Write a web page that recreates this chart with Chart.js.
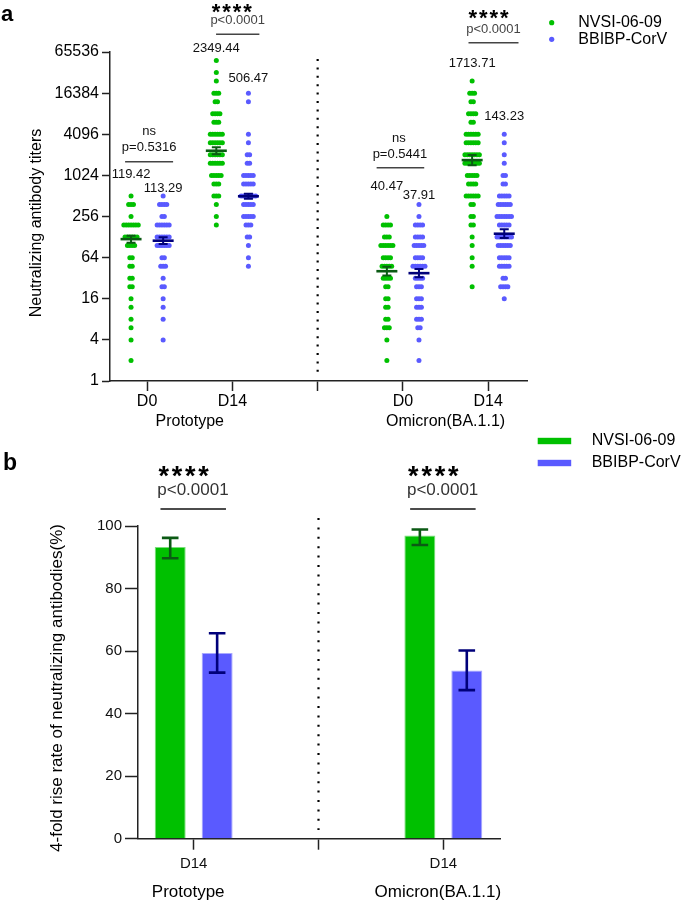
<!DOCTYPE html>
<html><head><meta charset="utf-8">
<script src="https://cdn.jsdelivr.net/npm/chart.js@4.4.1/dist/chart.umd.min.js"></script>
<style>
html,body{margin:0;padding:0;background:#fff;}
body{width:685px;height:902px;position:relative;overflow:hidden;}
canvas{position:absolute;left:0;}
#c1{top:0;} #c2{top:420px;}
</style></head><body>
<canvas id="c1" width="685" height="440"></canvas>
<canvas id="c2" width="685" height="482"></canvas>
<script>
// ---------------- DATA ----------------
const seriesNames = ['NVSI-06-09', 'BBIBP-CorV'];
const variantLabels = ['Prototype', 'Omicron(BA.1.1)'];

// Panel a : neutralizing antibody titers
const titerTicks = [1, 4, 16, 64, 256, 1024, 4096, 16384, 65536];
const dayLabelsA = ['D0', 'D14', '', 'D0', 'D14'];   // tick labels (index 2 = separator)
const groupPos = [0, 1, 3, 4];                       // Prototype D0, Prototype D14, Omicron D0, Omicron D14
// [titer, number of subjects] per group
const nvsiProtoD0 = [[2,1],[4,1],[6,1],[8,1],[12,1],[16,1],[24,2],[32,2],[48,2],[64,2],[96,4],[128,6],[192,7],[256,1],[384,3],[512,1]];
const bbibpProtoD0 = [[4,1],[8,1],[12,1],[16,1],[24,2],[32,1],[48,3],[64,2],[96,6],[128,6],[192,6],[256,2],[384,4],[512,1]];
const nvsiProtoD14 = [[192,1],[256,1],[384,1],[512,3],[768,3],[1024,5],[1536,6],[2048,6],[3072,6],[4096,6],[6144,3],[8192,4],[12288,2],[16384,3],[24576,1],[32768,1],[49152,1]];
const bbibpProtoD14 = [[48,1],[64,1],[96,1],[128,2],[192,3],[256,5],[384,5],[512,7],[768,5],[1024,5],[1536,2],[2048,2],[3072,1],[4096,1],[12288,1],[16384,1]];
const nvsiOmiD0 = [[2,1],[4,1],[6,3],[8,2],[12,2],[16,2],[24,2],[32,4],[48,5],[64,4],[96,6],[128,3],[192,4],[256,1]];
const bbibpOmiD0 = [[2,1],[4,1],[6,2],[8,3],[12,3],[16,3],[24,3],[32,4],[48,6],[64,4],[96,5],[128,4],[192,4],[256,1],[384,1]];
const nvsiOmiD14 = [[24,1],[48,1],[64,1],[96,1],[128,1],[192,2],[256,2],[384,2],[512,6],[768,4],[1024,5],[1536,7],[2048,7],[3072,6],[4096,6],[6144,2],[8192,4],[12288,2],[16384,3],[24576,1]];
const bbibpOmiD14 = [[16,1],[24,4],[32,2],[48,5],[64,5],[96,6],[128,7],[192,5],[256,7],[384,6],[512,5],[768,2],[1024,2],[1536,1],[2048,1],[3072,1],[4096,1]];
const nvsiGroups = [nvsiProtoD0, nvsiProtoD14, nvsiOmiD0, nvsiOmiD14];
const bbibpGroups = [bbibpProtoD0, bbibpProtoD14, bbibpOmiD0, bbibpOmiD14];
// geometric mean titers and their interval
const gmtNVSI = [119.42, 2349.44, 40.47, 1713.71];
const gmtBBIBP = [113.29, 506.47, 37.91, 143.23];
const ciNVSI = [[106, 134], [2080, 2650], [35, 47], [1440, 2040]];
const ciBBIBP = [[101, 127], [465, 552], [33, 43.6], [123.5, 166]];
const pLabelsA = ['p=0.5316', 'p<0.0001', 'p=0.5441', 'p<0.0001'];
const sigLabelsA = ['ns', '****', 'ns', '****'];

// Panel b : 4-fold rise rate (%)
const dayLabelsB = ['D14', '', 'D14'];
const ratePos = [0, 2];
const rateNVSI = [93.3, 97.0];
const rateBBIBP = [59.4, 53.8];
const errNVSI = [[89.7, 96.2], [93.9, 98.9]];
const errBBIBP = [[53.1, 65.7], [47.5, 60.2]];
const pLabelsB = ['p<0.0001', 'p<0.0001'];

// ---------------- STYLE ----------------
const FONT = "'Liberation Sans', Arial, Helvetica, sans-serif";
const GREEN = '#00C000', BLUE = '#5A5AFF';
const DGREEN = '#0B5A14', DBLUE = '#00007A';
const AXIS = '#222';
const DOT_OFF = 16 / 85;     // column offset from the day tick (x units)
const SWARM_STEP = 2.4 / 85; // horizontal step between tied points

function swarm(groups, side) {
  const pts = [];
  groups.forEach((g, gi) => {
    const c = groupPos[gi] + side * DOT_OFF;
    g.forEach(([v, n]) => {
      for (let i = 0; i < n; i++) pts.push({ x: c + (i - (n - 1) / 2) * SWARM_STEP, y: v });
    });
  });
  return pts;
}

function txt(ctx, s, x, y, size, color, align, weight) {
  ctx.save();
  ctx.font = (weight || 'normal') + ' ' + size + 'px ' + FONT;
  ctx.fillStyle = color || '#000';
  ctx.textAlign = align || 'center';
  ctx.textBaseline = 'middle';
  ctx.fillText(s, x, y);
  ctx.restore();
}
function stars(ctx, cx, cy, size, spacing) {
  ctx.save();
  ctx.font = 'bold ' + size + 'px ' + FONT;
  ctx.fillStyle = '#000';
  ctx.textAlign = 'center';
  ctx.textBaseline = 'alphabetic';
  for (let i = 0; i < 4; i++) ctx.fillText('*', cx + (i - 1.5) * spacing, cy + 0.58 * size);
  ctx.restore();
}
function hline(ctx, x1, x2, y, color, w) {
  ctx.save(); ctx.strokeStyle = color; ctx.lineWidth = w;
  ctx.beginPath(); ctx.moveTo(x1, y); ctx.lineTo(x2, y); ctx.stroke(); ctx.restore();
}
function dotted(ctx, x, y1, y2, gap) {
  ctx.save(); ctx.strokeStyle = '#000'; ctx.lineWidth = 2.2; ctx.setLineDash([2, gap]);
  ctx.beginPath(); ctx.moveTo(x, y1); ctx.lineTo(x, y2); ctx.stroke(); ctx.restore();
}
function vtitle(ctx, s, x, y, size) {
  ctx.save(); ctx.translate(x, y); ctx.rotate(-Math.PI / 2);
  ctx.font = size + 'px ' + FONT; ctx.fillStyle = '#000';
  ctx.textAlign = 'center'; ctx.textBaseline = 'middle'; ctx.fillText(s, 0, 0); ctx.restore();
}

// ---------------- PANEL A ----------------
const panelAPlugin = {
  id: 'panelA',
  afterDatasetsDraw(chart) {
    const { ctx, scales: { x, y } } = chart;
    [[gmtNVSI, ciNVSI, DGREEN, -1], [gmtBBIBP, ciBBIBP, DBLUE, 1]].forEach(([gm, ci, col, side]) => {
      gm.forEach((g, i) => {
        const cx = x.getPixelForValue(groupPos[i] + side * DOT_OFF);
        const ym = y.getPixelForValue(g), yl = y.getPixelForValue(ci[i][0]), yh = y.getPixelForValue(ci[i][1]);
        ctx.save(); ctx.strokeStyle = col;
        ctx.lineWidth = 2.6; ctx.beginPath(); ctx.moveTo(cx - 10.5, ym); ctx.lineTo(cx + 10.5, ym); ctx.stroke();
        ctx.lineWidth = 2; ctx.beginPath();
        ctx.moveTo(cx, yl); ctx.lineTo(cx, yh);
        ctx.moveTo(cx - 4.5, yl); ctx.lineTo(cx + 4.5, yl);
        ctx.moveTo(cx - 4.5, yh); ctx.lineTo(cx + 4.5, yh);
        ctx.stroke(); ctx.restore();
      });
    });
  },
  afterDraw(chart) {
    const { ctx, scales: { x, y } } = chart;
    // separator
    dotted(ctx, x.getPixelForValue(2), 59, 374, 6.4);
    // mean value labels
    const labelY = [[174.3, 188.3], [48.3, 78.3], [186.7, 195], [63.3, 116]];
    groupPos.forEach((p, i) => {
      txt(ctx, gmtNVSI[i].toFixed(2), x.getPixelForValue(p - DOT_OFF), labelY[i][0], 13, '#111');
      txt(ctx, gmtBBIBP[i].toFixed(2), x.getPixelForValue(p + DOT_OFF), labelY[i][1], 13, '#111');
    });
    // significance
    const sigLayout = [
      { dx: 2, ys: 131.7, yp: 147.3, yl: 161.7, l: -22, r: 26, pdx: 2 },
      { dx: -0.5, ys: 6, yp: 20.7, yl: 34.3, l: -16.3, r: 27, pdx: 5.3 },
      { dx: -4, ys: 138.3, yp: 154.3, yl: 167.7, l: -26.3, r: 21.3, pdx: -3 },
      { dx: 0.3, ys: 12.5, yp: 29, yl: 42.7, l: -19.7, r: 30.3, pdx: 5.3 }
    ];
    groupPos.forEach((p, i) => {
      const t = x.getPixelForValue(p), L = sigLayout[i];
      if (sigLabelsA[i] === '****') stars(ctx, t + L.dx, L.ys, 22, 10.5);
      else txt(ctx, sigLabelsA[i], t + L.dx, L.ys, 13, '#111');
      txt(ctx, pLabelsA[i], t + L.pdx, L.yp, 13, sigLabelsA[i] === '****' ? '#444' : '#111');
      hline(ctx, t + L.l, t + L.r, L.yl, '#444', 1.6);
    });
    // group labels
    txt(ctx, variantLabels[0], (x.getPixelForValue(0) + x.getPixelForValue(1)) / 2, 422, 16, '#000');
    txt(ctx, variantLabels[1], (x.getPixelForValue(3) + x.getPixelForValue(4)) / 2, 422, 16, '#000');
    // axis title
    vtitle(ctx, 'Neutralizing antibody titers', 36.5, 223, 16);
    // panel letter
    txt(ctx, 'a', 1, 15, 22, '#000', 'left', 'bold');
    // legend
    [[GREEN, 22.7], [BLUE, 39.3]].forEach(([c, yy], i) => {
      ctx.save(); ctx.fillStyle = c; ctx.beginPath(); ctx.arc(551.7, yy, 2.6, 0, Math.PI * 2); ctx.fill(); ctx.restore();
      txt(ctx, seriesNames[i], 578.3, yy, 16, '#000', 'left');
    });
  }
};

new Chart(document.getElementById('c1'), {
  type: 'scatter',
  data: {
    datasets: [
      { label: seriesNames[0], data: swarm(nvsiGroups, -1), backgroundColor: GREEN, borderWidth: 0, pointRadius: 2.5 },
      { label: seriesNames[1], data: swarm(bbibpGroups, 1), backgroundColor: BLUE, borderWidth: 0, pointRadius: 2.5 }
    ]
  },
  options: {
    responsive: false, animation: false, events: [],
    layout: { padding: { left: 0, right: 158, top: 52, bottom: 0 } },
    plugins: { legend: { display: false }, tooltip: { enabled: false } },
    scales: {
      x: {
        type: 'linear', min: -0.435, max: 4.455,
        afterBuildTicks: s => { s.ticks = dayLabelsA.map((_, i) => ({ value: i })); },
        afterFit: s => { s.height = 59; },
        grid: { drawOnChartArea: false, tickLength: 10, tickWidth: 1.5, tickColor: AXIS },
        border: { color: AXIS, width: 1.5 },
        ticks: { autoSkip: false, maxRotation: 0, padding: 1, color: '#000', font: { family: FONT, size: 16 },
                 callback: v => dayLabelsA[v] ?? '' }
      },
      y: {
        type: 'logarithmic', min: 1, max: 65536,
        afterBuildTicks: s => { s.ticks = titerTicks.map(v => ({ value: v })); },
        afterFit: s => { s.width = 110; },
        grid: { drawOnChartArea: false, tickLength: 8, tickWidth: 1.5, tickColor: AXIS },
        border: { color: AXIS, width: 1.5 },
        ticks: { autoSkip: false, padding: 3, color: '#000', font: { family: FONT, size: 16 },
                 callback: v => String(v) }
      }
    }
  },
  plugins: [panelAPlugin]
});

// ---------------- PANEL B ----------------
const OFF2 = 420;
const panelBPlugin = {
  id: 'panelB',
  afterDatasetsDraw(chart) {
    const { ctx, scales: { y } } = chart;
    [[errNVSI, DGREEN], [errBBIBP, DBLUE]].forEach(([err, col], di) => {
      chart.getDatasetMeta(di).data.forEach((bar, j) => {
        const cx = bar.x, yl = y.getPixelForValue(err[j][0]), yh = y.getPixelForValue(err[j][1]);
        ctx.save(); ctx.strokeStyle = col; ctx.lineWidth = 2.6; ctx.beginPath();
        ctx.moveTo(cx, yl); ctx.lineTo(cx, yh);
        ctx.moveTo(cx - 8.3, yl); ctx.lineTo(cx + 8.3, yl);
        ctx.moveTo(cx - 8.3, yh); ctx.lineTo(cx + 8.3, yh);
        ctx.stroke(); ctx.restore();
      });
    });
  },
  afterDraw(chart) {
    const { ctx, scales: { x } } = chart;
    dotted(ctx, x.getPixelForValue(1), 518 - OFF2, 830 - OFF2, 7.4);
    ratePos.forEach((p, i) => {
      const t = x.getPixelForValue(p);
      stars(ctx, t - 10, 469 - OFF2, 27, 13.3);
      txt(ctx, pLabelsB[i], t - 0.7, 490 - OFF2, 17, '#333');
      hline(ctx, t - 33.2, t + 32.3, 509 - OFF2, '#111', 1.6);
      txt(ctx, variantLabels[i], t - 5.5, 892.7 - OFF2, 17, '#000');
    });
    vtitle(ctx, '4-fold rise rate of neutralizing antibodies(%)', 57, 688 - OFF2, 17);
    txt(ctx, 'b', 3, 463.5 - OFF2, 23, '#000', 'left', 'bold');
    [[GREEN, 441], [BLUE, 463]].forEach(([c, yy], i) => {
      ctx.save(); ctx.fillStyle = c; ctx.fillRect(537.7, yy - OFF2 - 3.2, 33.5, 6.4); ctx.restore();
      txt(ctx, seriesNames[i], 591.7, yy - OFF2, 16, '#000', 'left');
    });
  }
};

new Chart(document.getElementById('c2'), {
  type: 'bar',
  data: {
    datasets: [
      { label: seriesNames[0], data: ratePos.map((p, i) => ({ x: p, y: rateNVSI[i] })),
        backgroundColor: GREEN, borderColor: '#7ADF7A', borderWidth: 1, categoryPercentage: 0.752, barPercentage: 0.66 },
      { label: seriesNames[1], data: ratePos.map((p, i) => ({ x: p, y: rateBBIBP[i] })),
        backgroundColor: BLUE, borderColor: '#A9A9FF', borderWidth: 1, categoryPercentage: 0.752, barPercentage: 0.66 }
    ]
  },
  options: {
    responsive: false, animation: false, events: [],
    layout: { padding: { left: 0, right: 185, top: 106, bottom: 0 } },
    plugins: { legend: { display: false }, tooltip: { enabled: false } },
    scales: {
      x: {
        type: 'linear', min: -0.446, max: 2.454, offset: false,
        afterBuildTicks: s => { s.ticks = dayLabelsB.map((_, i) => ({ value: i })); },
        afterFit: s => { s.height = 63.3; },
        grid: { offset: false, drawOnChartArea: false, tickLength: 11, tickWidth: 1.5, tickColor: AXIS },
        border: { color: AXIS, width: 1.5 },
        ticks: { autoSkip: false, maxRotation: 0, padding: 5, color: '#111', font: { family: FONT, size: 15 },
                 callback: v => dayLabelsB[v] ?? '' }
      },
      y: {
        type: 'linear', min: 0, max: 100,
        afterBuildTicks: s => { s.ticks = [0, 20, 40, 60, 80, 100].map(v => ({ value: v })); },
        afterFit: s => { s.width = 138; },
        grid: { drawOnChartArea: false, tickLength: 13, tickWidth: 1.5, tickColor: AXIS },
        border: { color: AXIS, width: 1.5 },
        ticks: { autoSkip: false, padding: 3, color: '#111', font: { family: FONT, size: 15 } }
      }
    }
  },
  plugins: [panelBPlugin]
});
</script>
</body></html>
